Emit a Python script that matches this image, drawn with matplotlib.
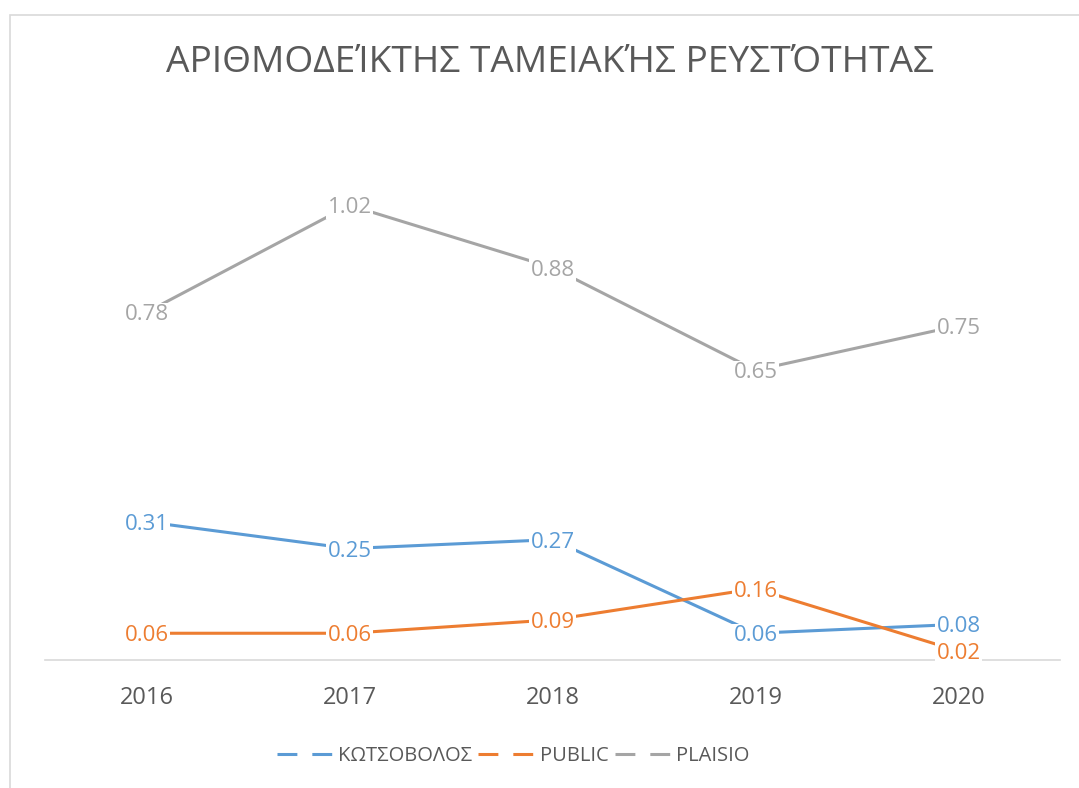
import matplotlib
matplotlib.use("Agg")
import matplotlib.pyplot as plt
from matplotlib.lines import Line2D
from matplotlib.patches import Rectangle

years = ["2016", "2017", "2018", "2019", "2020"]
kotsovolos = [0.31, 0.25, 0.27, 0.06, 0.08]
public = [0.06, 0.06, 0.09, 0.16, 0.02]
plaisio = [0.78, 1.02, 0.88, 0.65, 0.75]

series_names = ["ΚΩΤΣΟΒΟΛΟΣ", "PUBLIC", "PLAISIO"]
series_values = [kotsovolos, public, plaisio]
series_colors = ["#5B9BD5", "#ED7D31", "#A5A5A5"]

TEXT = "#595959"
GRID = "#D9D9D9"

plt.rcParams["font.family"] = ["Open Sans", "DejaVu Sans"]

fig = plt.figure(figsize=(10.79, 7.88), dpi=100)
fig.patch.set_facecolor("white")

W, H = 1079, 788

# chart border (only top and left visible in the crop)
fig.patches.append(
    Rectangle((9.5 / W, -0.1), 1.2, 1.1 - 15.5 / H,
              transform=fig.transFigure, fill=False,
              edgecolor=GRID, linewidth=1.2)
)

left, right = 45 / W, 1060 / W
bottom, top = (H - 660) / H, (H - 125) / H
ax = fig.add_axes([left, bottom, right - left, top - bottom])
ax.set_facecolor("none")

x_positions = list(range(len(years)))

for name, values, color in zip(series_names, series_values, series_colors):
    ax.plot(x_positions, values, color=color, linewidth=2.2,
            solid_capstyle="round", zorder=2)
    for x_value, y_value in zip(x_positions, values):
        ax.text(x_value, y_value, f"{y_value:.2f}", color=color,
                fontsize=16, ha="center", va="center_baseline",
                bbox={"boxstyle": "square,pad=0.05", "facecolor": "white",
                      "edgecolor": "none"},
                zorder=3)

ax.set_xlim(-0.5, len(years) - 0.5)
ax.set_ylim(0, 1.2)
ax.set_xticks(x_positions)
ax.set_xticklabels(years, color=TEXT, fontsize=17)
ax.tick_params(axis="x", length=0, pad=18.5)
ax.set_yticks([])

for side in ["top", "right", "left"]:
    ax.spines[side].set_visible(False)
ax.spines["bottom"].set_color(GRID)
ax.spines["bottom"].set_linewidth(1.2)

fig.text(550 / W, (H - 63) / H, "ΑΡΙΘΜΟΔΕΊΚΤΗΣ ΤΑΜΕΙΑΚΉΣ ΡΕΥΣΤΌΤΗΤΑΣ",
         ha="center", va="center", color=TEXT, fontsize=26.7,
         fontweight="normal")

legend_handles = []
for name, color in zip(series_names, series_colors):
    legend_handles.append(
        Line2D([0], [0], color=color, linewidth=2.2,
               dashes=(6.5, 4.9), label=name)
    )

fig.legend(handles=legend_handles, loc="center",
           bbox_to_anchor=(513 / W, (H - 756) / H), ncol=3,
           frameon=False, fontsize=14.5, labelcolor=TEXT,
           handlelength=2.75, handletextpad=0.3, columnspacing=0.3)

fig.savefig("out.png", dpi=100, facecolor="white")
